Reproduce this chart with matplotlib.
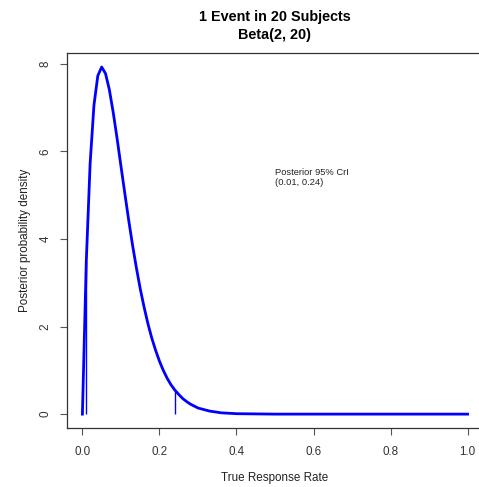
import matplotlib
matplotlib.use("Agg")
import matplotlib.pyplot as plt

# density values
rate = [0.00, 0.01, 0.02, 0.03, 0.04, 0.05, 0.06, 0.07, 0.08, 0.09, 0.10,
        0.11, 0.12, 0.13, 0.14, 0.15, 0.16, 0.17, 0.18, 0.19, 0.20,
        0.21, 0.22, 0.23, 0.24, 0.25, 0.26, 0.27, 0.28, 0.30, 0.33,
        0.36, 0.40, 0.50, 0.60, 0.70, 0.80, 0.90, 1.00]
density = [0.00, 3.47, 5.72, 7.06, 7.73, 7.93, 7.78, 7.41, 6.89, 6.30, 5.67,
           5.05, 4.44, 3.87, 3.35, 2.87, 2.45, 2.07, 1.74, 1.46, 1.21,
           1.00, 0.82, 0.67, 0.55, 0.45, 0.36, 0.29, 0.23, 0.14, 0.07,
           0.03, 0.01, 0.00, 0.00, 0.00, 0.00, 0.00, 0.00]

cri = [0.01, 0.24]
cri_height = [3.47, 0.55]
xticks = [0.0, 0.2, 0.4, 0.6, 0.8, 1.0]
yticks = [0, 2, 4, 6, 8]

plt.rcParams['font.family'] = ['Liberation Sans', 'DejaVu Sans']

fig = plt.figure(figsize=(4.79, 4.87), dpi=100)
ax = fig.add_axes([67/479, 59/487, 416/479, 375/487])

ax.plot(rate, density, color='#0000FF', lw=2.0)
ax.vlines(cri, 0, cri_height, color='#0000FF', lw=1.0)

ax.set_xlim(-0.04, 1.04)
ax.set_ylim(-0.317, 8.25)

ax.set_xticks(xticks)
ax.set_xticklabels(['0.0', '0.2', '0.4', '0.6', '0.8', '1.0'])
ax.set_yticks(yticks)
ax.set_yticklabels([str(v) for v in yticks], rotation=90, va='center')
ax.tick_params(axis='both', direction='out', length=5, width=0.8,
               color='#555555', labelsize=8.4, labelcolor='#333333')
ax.tick_params(axis='x', pad=8)
ax.tick_params(axis='y', pad=6)

for s in ax.spines.values():
    s.set_color('#333333')
    s.set_linewidth(0.9)
ax.spines['right'].set_visible(False)

ax.text(0.5, 5.41, 'Posterior 95% CrI\n(0.01, 0.24)', ha='left', va='center',
        fontsize=6.75, color='#222222', linespacing=1.2)

ax.set_xlabel('True Response Rate', fontsize=8.4, color='#222222', labelpad=10)
ax.set_ylabel('Posterior probability density', fontsize=8.4, color='#222222', labelpad=6)

fig.text(275/479, 1 - 26/487, '1 Event in 20 Subjects\nBeta(2, 20)', ha='center',
         va='center', fontsize=10.4, fontweight='bold', linespacing=1.35)

fig.savefig('out.png', dpi=100)
